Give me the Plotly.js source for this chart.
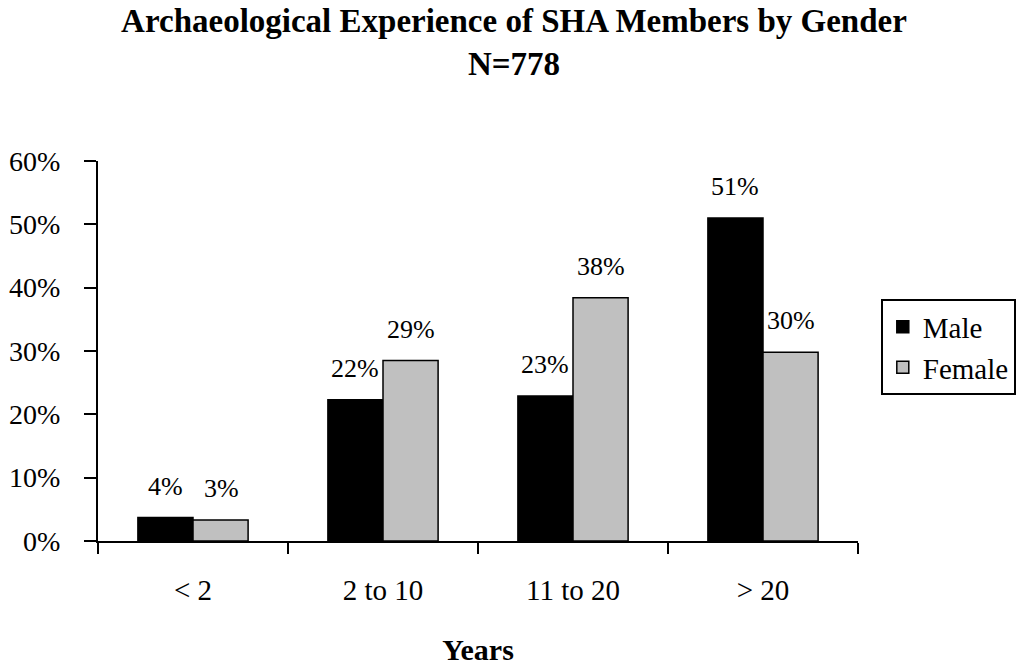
<!DOCTYPE html>
<html>
<head>
<meta charset="utf-8">
<script src="https://cdn.plot.ly/plotly-3.0.1.min.js"></script>
<style>html,body{margin:0;padding:0;background:#fff;}#chart{width:1028px;height:666px;}</style>
</head>
<body>
<div id="chart"></div>
<script>
const categories = ['< 2', '2 to 10', '11 to 20', '> 20'];
const maleValues = [0.037, 0.223, 0.229, 0.510];
const femaleValues = [0.033, 0.285, 0.384, 0.298];
const maleLabels = ['4%', '22%', '23%', '51%'];
const femaleLabels = ['3%', '29%', '38%', '30%'];
const yTickVals = [0, 0.1, 0.2, 0.3, 0.4, 0.5, 0.6];
const yTickText = ['0%', '10%', '20%', '30%', '40%', '50%', '60%'];

const FONT = '"Liberation Serif", "Times New Roman", serif';

const traces = [
  {type: 'bar', name: 'Male', x: categories, y: maleValues, legendgroup: 'm',
   marker: {color: '#000000', line: {color: '#000000', width: 1.5}}, hoverinfo: 'none'},
  {type: 'bar', name: 'Female', x: categories, y: femaleValues, legendgroup: 'f',
   marker: {color: '#C0C0C0', line: {color: '#000000', width: 1.5}}, hoverinfo: 'none'}
];

const annotations = [];
categories.forEach((c, i) => {
  annotations.push({x: c, y: maleValues[i], text: maleLabels[i], showarrow: false,
    xref: 'x', yref: 'y', xshift: -28, yshift: 15, yanchor: 'bottom',
    font: {family: FONT, size: 26, color: '#000'}});
  annotations.push({x: c, y: femaleValues[i], text: femaleLabels[i], showarrow: false,
    xref: 'x', yref: 'y', xshift: 28, yshift: 15, yanchor: 'bottom',
    font: {family: FONT, size: 26, color: '#000'}});
});

const layout = {
  width: 1028, height: 666,
  margin: {l: 98, r: 170, t: 161, b: 125, pad: 0},
  paper_bgcolor: '#fff', plot_bgcolor: '#fff',
  font: {family: FONT, size: 26, color: '#000'},
  title: {text: '<b>Archaeological Experience of SHA Members by Gender<br>N=778</b>',
    font: {family: FONT, size: 33, color: '#000'},
    x: 0.5, xref: 'container', xanchor: 'center', y: 0.952, yref: 'container', yanchor: 'top'},
  barmode: 'group', bargap: 0.42, bargroupgap: 0,
  showlegend: true,
  legend: {x: 1.03, xanchor: 'left', y: 0.636, yanchor: 'top',
    bordercolor: '#000', borderwidth: 2, bgcolor: '#fff',
    font: {family: FONT, size: 29, color: '#000'}, tracegroupgap: 10,
    traceorder: 'normal'},
  xaxis: {type: 'category', range: [-0.5, 3.5], showline: true, linecolor: '#000', linewidth: 2,
    ticks: 'outside', tickson: 'boundaries', ticklen: 11, tickwidth: 2, tickcolor: '#000',
    showgrid: false, zeroline: false, fixedrange: true, automargin: false,
    ticklabelstandoff: 22, tickfont: {family: FONT, size: 29},
    title: {text: '<b>Years</b>', font: {family: FONT, size: 30}, standoff: 40}},
  yaxis: {range: [0, 0.6], tickvals: yTickVals, ticktext: yTickText, showline: true,
    linecolor: '#000', linewidth: 2, ticks: 'outside', ticklen: 12, tickwidth: 2,
    tickcolor: '#000', showgrid: false, zeroline: false, fixedrange: true, automargin: false,
    ticklabelstandoff: 18, tickfont: {family: FONT, size: 28}},
  annotations: annotations
};

Plotly.newPlot('chart', traces, layout, {displayModeBar: false, staticPlot: true});
</script>
</body>
</html>
